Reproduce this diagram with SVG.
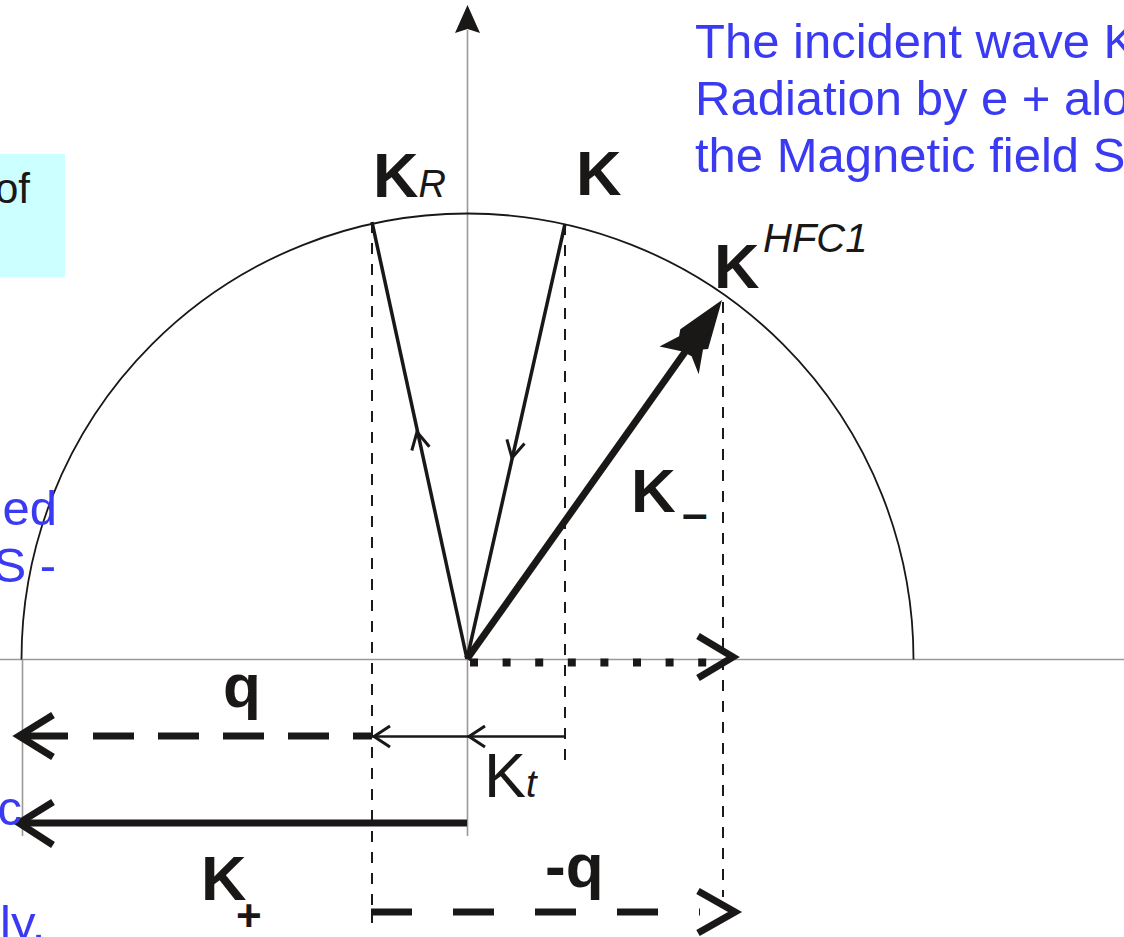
<svg xmlns="http://www.w3.org/2000/svg" width="1124" height="937" viewBox="0 0 1124 937">
<style>
.ax{stroke:#999;stroke-width:1.6;fill:none}
.thin{stroke:#1a1a1a;stroke-width:2;stroke-dasharray:11 10;fill:none}
.thick{stroke:#1a1717;stroke-width:7;fill:none;stroke-linecap:butt}
.chev{stroke:#1a1717;stroke-width:7;fill:none;stroke-linejoin:miter;stroke-linecap:butt}
.mid{stroke:#1a1717;stroke-width:3.5;fill:none}
.small{stroke:#1a1717;stroke-width:3;fill:none}
.lbl{font-family:"Liberation Sans",Arial,sans-serif;fill:#1a1717}
.b{font-weight:bold}
.i{font-style:italic}
.blue{font-family:"Liberation Sans",Arial,sans-serif;fill:#3a3af2;font-size:49px}
</style>
<rect width="1124" height="937" fill="#fff"/>
<g id="box">
<rect x="0" y="154" width="65" height="123" fill="#ccffff"/>
<text class="lbl" x="30" y="203" font-size="42" text-anchor="end" fill="#000">of</text>
</g>
<g id="axes">
<line class="ax" x1="0" y1="659.5" x2="1124" y2="659.5"/>
<line class="ax" x1="467.5" y1="30" x2="467.5" y2="836"/>
<line class="ax" x1="22.5" y1="659" x2="22.5" y2="836"/>
<polygon points="467.5,5 480,33 467.5,29 455,33" fill="#1a1717"/>
</g>
<g id="circle">
<path d="M 21.5 659.5 A 446 446 0 0 1 913.5 659.5" fill="none" stroke="#1a1717" stroke-width="1.8"/>
</g>
<g id="connectors">
<line class="thin" x1="372" y1="222" x2="372" y2="923"/>
<line class="thin" x1="565" y1="224" x2="565" y2="760"/>
<line class="thin" x1="723" y1="302" x2="723" y2="897"/>
<line class="mid" x1="467" y1="659" x2="372" y2="222"/>
<polyline class="small" points="411.8,450.5 417,432 429.4,446.7"/>
<line class="mid" x1="565" y1="224" x2="467" y2="659"/>
<polyline class="small" points="506.9,439.4 512,458 524.5,443.4"/>
<line class="thick" x1="467" y1="659" x2="685" y2="352"/>
<polygon points="722,300 680.3,329.3 679.1,336.3 659.5,346.5 682.5,351.5 691.6,356.2 698.7,374.3 703,349.5 708.1,349.1" fill="#1a1717"/>
<line x1="470" y1="662.5" x2="708" y2="662.5" stroke="#1a1717" stroke-width="8" stroke-dasharray="8 24.6"/>
<polyline class="chev" points="698,636 733,657 698,678"/>
<line class="thick" x1="20" y1="736" x2="372" y2="736" stroke-dasharray="48 25 41 24 41 24 41 24 41 24 20"/>
<polyline class="chev" points="53,715 19,736 53,757"/>
<line x1="565" y1="736.5" x2="372" y2="736.5" stroke="#1a1717" stroke-width="2.5"/>
<polyline class="small" points="485,726 469,736.5 485,747"/>
<polyline class="small" points="390,726 374,736.5 390,747"/>
<line class="thick" x1="467" y1="823" x2="22" y2="823"/>
<polyline class="chev" points="53,802 19,823 53,845"/>
<line class="thick" x1="371" y1="912" x2="700" y2="912" stroke-dasharray="41 41"/>
<polyline class="chev" points="698,891 735,912 698,933"/>
</g>
<g id="labels">
<text class="lbl b" x="373" y="197" font-size="63">K<tspan class="i" font-weight="normal" font-size="38">R</tspan></text>
<text class="lbl b" x="576" y="195" font-size="63">K</text>
<text class="lbl b" x="714" y="288" font-size="63">K</text>
<text class="lbl i" x="763" y="252" font-size="40">HFC1</text>
<text class="lbl b" x="631" y="512" font-size="62">K</text>
<text class="lbl b" x="682" y="529" font-size="46">–</text>
<text class="lbl b" x="223" y="707" font-size="62">q</text>
<text class="lbl" x="484" y="797" font-size="63">K<tspan class="i" font-size="38">t</tspan></text>
<text class="lbl b" x="201" y="900" font-size="63">K</text>
<text class="lbl b" x="236" y="931" font-size="44">+</text>
<text class="lbl b" x="545" y="887" font-size="62">-q</text>
</g>
<g id="notes">
<text class="blue" x="695" y="58">The incident wave K</text>
<text class="blue" x="695" y="115">Radiation by e + alon</text>
<text class="blue" x="695" y="172">the Magnetic field S</text>
<text class="blue" x="57" y="525" font-size="48" text-anchor="end">ed</text>
<text class="blue" x="56" y="582" font-size="48" text-anchor="end">S -</text>
<text class="blue" x="22" y="825" font-size="48" text-anchor="end">c</text>
<text class="blue" x="0" y="940" font-size="48">ly.</text>
</g>
</svg>
